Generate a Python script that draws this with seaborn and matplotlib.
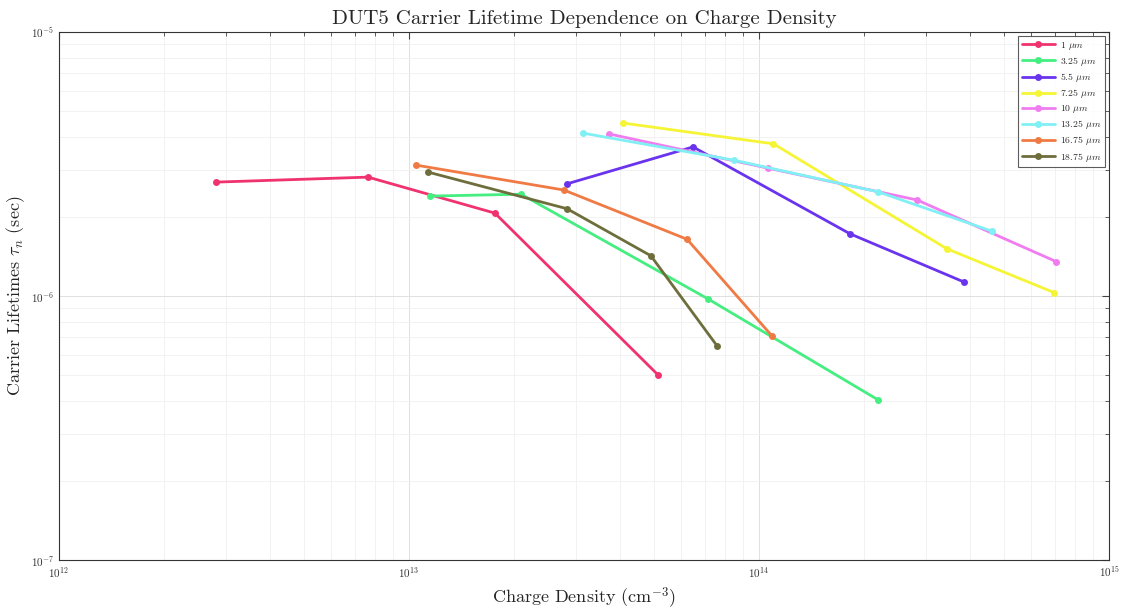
import numpy as np
import pandas as pd
import seaborn as sns
import matplotlib.pyplot as plt
from matplotlib.ticker import LogLocator, FuncFormatter, NullFormatter

# depths of each series (legend labels)
depths = ["1", "3.25", "5.5", "7.25", "10", "13.25", "16.75", "18.75"]

# charge density (cm^-3) for each series
dens_1 = [2.81e12, 7.64e12, 1.76e13, 5.15e13]
dens_325 = [1.15e13, 2.09e13, 7.15e13, 2.19e14]
dens_55 = [2.83e13, 6.48e13, 1.82e14, 3.85e14]
dens_725 = [4.09e13, 1.10e14, 3.44e14, 6.97e14]
dens_10 = [3.73e13, 1.06e14, 2.83e14, 7.06e14]
dens_1325 = [3.14e13, 8.48e13, 2.19e14, 4.63e14]
dens_1675 = [1.05e13, 2.77e13, 6.23e13, 1.09e14]
dens_1875 = [1.13e13, 2.83e13, 4.91e13, 7.59e13]

# carrier lifetimes (sec)
tau_1 = [2.70e-6, 2.82e-6, 2.06e-6, 5.02e-7]
tau_325 = [2.39e-6, 2.43e-6, 9.75e-7, 4.04e-7]
tau_55 = [2.66e-6, 3.67e-6, 1.72e-6, 1.13e-6]
tau_725 = [4.52e-6, 3.77e-6, 1.51e-6, 1.03e-6]
tau_10 = [4.11e-6, 3.05e-6, 2.31e-6, 1.35e-6]
tau_1325 = [4.14e-6, 3.27e-6, 2.48e-6, 1.76e-6]
tau_1675 = [3.13e-6, 2.52e-6, 1.64e-6, 7.05e-7]
tau_1875 = [2.95e-6, 2.14e-6, 1.42e-6, 6.47e-7]

colors = ["#f0326f", "#44ee80", "#6a33ee", "#f5f535",
          "#f07cf0", "#80f0f4", "#f07a44", "#6e6e3c"]

all_dens = [dens_1, dens_325, dens_55, dens_725, dens_10, dens_1325, dens_1675, dens_1875]
all_tau = [tau_1, tau_325, tau_55, tau_725, tau_10, tau_1325, tau_1675, tau_1875]

labels = [d + r" $\mu m$" for d in depths]
rows = []
for lab, xs, ys in zip(labels, all_dens, all_tau):
    for x, y in zip(xs, ys):
        rows.append({"depth": lab, "density": x, "tau": y})
df = pd.DataFrame(rows)

sns.set_style("white")
plt.rcParams["font.family"] = ["cmr10", "DejaVu Serif"]
plt.rcParams["mathtext.fontset"] = "cm"
plt.rcParams["axes.formatter.use_mathtext"] = True

fig = plt.figure(figsize=(11.25, 6.13), dpi=100)
ax = fig.add_axes([0.0524, 0.0865, 0.9334, 0.8613])

sns.lineplot(data=df, x="density", y="tau", hue="depth", hue_order=labels,
             palette=colors, marker="o", markersize=5, markeredgewidth=0,
             linewidth=2, estimator=None, sort=False, ax=ax)

ax.set_xscale("log")
ax.set_yscale("log")
ax.set_xlim(1e12, 1e15)
ax.set_ylim(1e-7, 1e-5)

ax.xaxis.set_major_locator(LogLocator(base=10, numticks=10))
ax.yaxis.set_major_locator(LogLocator(base=10, numticks=10))
ax.xaxis.set_minor_locator(LogLocator(base=10, subs=np.arange(2, 10), numticks=20))
ax.yaxis.set_minor_locator(LogLocator(base=10, subs=np.arange(2, 10), numticks=20))
ax.xaxis.set_minor_formatter(NullFormatter())
ax.yaxis.set_minor_formatter(NullFormatter())
sf = FuncFormatter(lambda v, p: r"$\mathsf{10^{%d}}$" % int(round(np.log10(v))))
ax.xaxis.set_major_formatter(sf)
ax.yaxis.set_major_formatter(sf)

ax.grid(True, which="major", color="#e0e0e0", linewidth=0.7)
ax.grid(True, which="minor", color="#f0f0f0", linewidth=0.6)
ax.tick_params(which="both", direction="in", top=True, right=True,
               colors="#444444", labelcolor="#333333", labelsize=8)
ax.tick_params(which="major", length=5)
ax.tick_params(which="minor", length=3)
for s in ax.spines.values():
    s.set_color("#333333")
    s.set_linewidth(0.8)

ax.set_title("DUT5 Carrier Lifetime Dependence on Charge Density", fontsize=15, pad=6)
ax.set_xlabel(r"Charge Density (cm$^{-3}$)", fontsize=13, labelpad=4)
ax.set_ylabel(r"Carrier Lifetimes $\tau_n$ (sec)", fontsize=13, labelpad=3)

leg = ax.legend(loc="upper right", fontsize=7, frameon=True, fancybox=False,
                borderpad=0.4, labelspacing=0.32, handlelength=3.4,
                handletextpad=0.5, borderaxespad=0.4)
leg.get_frame().set_edgecolor("#333333")
leg.get_frame().set_linewidth(0.8)

fig.savefig("out.png", dpi=100)
